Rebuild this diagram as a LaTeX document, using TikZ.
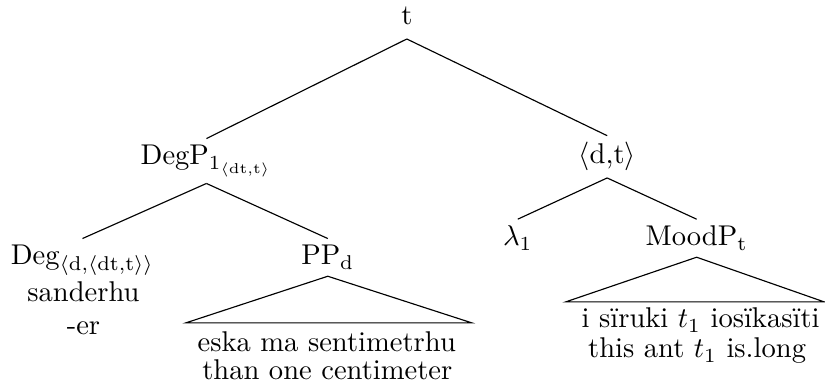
\documentclass[tikz,border=0pt]{standalone}
\usepackage{amsmath}
\usepackage{tikz}

\begin{document}
\begin{tikzpicture}[
  cat/.style={anchor=base, inner sep=2.2pt},
  word/.style={anchor=base, inner sep=0pt},
  branch/.style={line width=0.4pt, black}
]
\useasboundingbox (0,0) rectangle (10.15,-4.81);

% category labels
\node[cat] (t) at (5.005,-0.307) {t};
\node[cat] (degp) at (2.54,-2.029) {DegP$_{1_{\langle\text{dt,t}\rangle}}$};
\node[cat] (dt) at (7.47,-2.017) {$\langle$d,t$\rangle$};
\node[cat] (deg) at (1.015,-3.259) {Deg$_{\langle\text{d,}\langle\text{dt,t}\rangle\rangle}$};
\node[cat] (pp) at (4.033,-3.259) {PP$_\text{d}$};
\node[cat] (lambda) at (6.37,-3.025) {$\lambda_1$};
\node[cat] (moodp) at (8.571,-3.025) {MoodP$_\text{t}$};

% words and glosses
\node[word] (degword) at (1.027,-3.714) {sanderhu};
\node[word] (deggloss) at (1.027,-4.12) {-er};
\node[word] (ppword) at (4.02,-4.329) {eska ma sentimetrhu};
\node[word] (ppgloss) at (4.027,-4.673) {than one centimeter};
\node[word] (moodword) at (8.62,-4.033) {i s\"{\i}ruki $t_1$ ios\"{\i}kas\"{\i}ti};
\node[word] (moodgloss) at (8.577,-4.402) {this ant $t_1$ is.long};

% branches
\draw[branch] ([yshift=-2.4pt]t.south) -- (degp.north);
\draw[branch] ([yshift=-2.4pt]t.south) -- (dt.north);
\draw[branch] (degp.south) -- (deg.north);
\draw[branch] (degp.south) -- (pp.north);
\draw[branch] (dt.south) -- (lambda.north);
\draw[branch] (dt.south) -- (moodp.north);

% roofs
\coordinate (ppL) at (2.287,-3.972);
\coordinate (ppR) at (5.804,-3.972);
\draw[branch] (pp.south) -- (ppL) -- (ppR) -- cycle;
\coordinate (moodL) at (6.96,-3.714);
\coordinate (moodR) at (10.14,-3.714);
\draw[branch] (moodp.south) -- (moodL) -- (moodR) -- cycle;
\end{tikzpicture}
\end{document}
